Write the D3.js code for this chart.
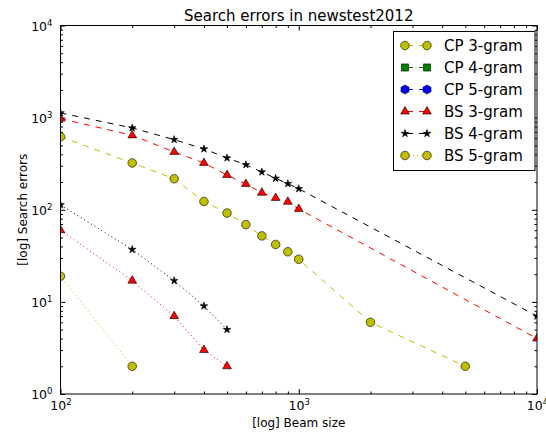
<!DOCTYPE html>
<html>
<head>
<meta charset="utf-8">
<script src="https://cdn.jsdelivr.net/npm/d3@7"></script>
<style>
  body { margin: 0; background: #fff; }
  text { font-family: "DejaVu Sans", sans-serif; }
</style>
</head>
<body>
<svg id="chart" width="546" height="432"></svg>
<script>
// beam sizes
const beam_long = [100, 200, 300, 400, 500, 600, 700, 800, 900, 1000, 2000, 5000];
const beam_mid = [100, 200, 300, 400, 500, 600, 700, 800, 900, 1000, 10000];
const beam_short = [100, 200, 300, 400, 500];
const beam_tiny = [100, 200];

// search errors per series
const err_cp3 = [620, 322, 217, 123, 92, 69, 52, 42, 35, 29, 6, 2];
const err_cp4 = [];
const err_cp5 = [];
const err_bs3 = [975, 642, 424, 322, 238, 190, 153, 134, 122, 102, 4];
const err_bs4 = [1125, 773, 577, 457, 365, 308, 257, 219, 192, 169, 7];
const err_bs5 = [19, 2];
const err_extra3 = [60, 17, 7, 3, 2];
const err_extra4 = [113, 37, 17, 9, 5];

const labels = ["CP 3-gram", "CP 4-gram", "CP 5-gram", "BS 3-gram", "BS 4-gram", "BS 5-gram"];
const x_ticks = [100, 1000, 10000];
const y_ticks = [1, 10, 100, 1000, 10000];

const series = [
    { label: labels[0], xs: beam_long, ys: err_cp3, color: "#bfbf00", dash: "6,6", shape: "circle" },
    { label: labels[1], xs: [], ys: err_cp4, color: "#008000", dash: "6,6", shape: "square" },
    { label: labels[2], xs: [], ys: err_cp5, color: "#0000ff", dash: "6,6", shape: "hexagon" },
    { label: labels[3], xs: beam_mid, ys: err_bs3, color: "#ff0000", dash: "6,6", shape: "triangle" },
    { label: labels[4], xs: beam_mid, ys: err_bs4, color: "#000000", dash: "6,6", shape: "star" },
    { label: labels[5], xs: beam_tiny, ys: err_bs5, color: "#bfbf00", dash: "1,3", shape: "circle" },
    { label: null, xs: beam_short, ys: err_extra3, color: "#ff0000", dash: "1,3", shape: "triangle" },
    { label: null, xs: beam_short, ys: err_extra4, color: "#000000", dash: "1,3", shape: "star" }
];

const plot_left = 60.5, plot_right = 537, plot_top = 25.5, plot_bottom = 394;
const svg = d3.select("#chart");

const x = d3.scaleLog().domain([100, 10000]).range([plot_left, plot_right]);
const y = d3.scaleLog().domain([1, 10000]).range([plot_bottom, plot_top]);

function minorTicks(lo, hi) {
    let out = [];
    for (let d = lo; d < hi; d *= 10)
        for (let k = 2; k <= 9; k++) out.push(d * k);
    return out;
}

// hexagon for CP 5-gram legend marker
const symbolHexagon = {
    draw(ctx, size) {
        const r = Math.sqrt(size / (1.5 * Math.sqrt(3)));
        for (let i = 0; i < 6; i++) {
            const a = Math.PI / 2 + i * Math.PI / 3;
            const px = r * Math.cos(a), py = -r * Math.sin(a);
            if (i === 0) ctx.moveTo(px, py); else ctx.lineTo(px, py);
        }
        ctx.closePath();
    }
};
function markerPath(shape) {
    if (shape === "circle") return d3.symbol(d3.symbolCircle, 58)();
    if (shape === "triangle") return d3.symbol(d3.symbolTriangle, 33)();
    if (shape === "star") return d3.symbol(d3.symbolStar, 18)();
    if (shape === "square") return d3.symbol(d3.symbolSquare, 50)();
    return d3.symbol(symbolHexagon, 55)();
}

svg.append("clipPath").attr("id", "plot-clip")
    .append("rect").attr("x", plot_left).attr("y", plot_top)
    .attr("width", plot_right - plot_left).attr("height", plot_bottom - plot_top);

// Axes: minor then major ticks on all four sides, pointing inwards
function supLabels(sel, sup_dy) {
    sel.selectAll("text").each(function(d) {
        const t = d3.select(this);
        t.text("10");
        t.append("tspan").attr("dy", sup_dy).attr("font-size", "8.5px").text(Math.round(Math.log10(d)));
    });
}

const ax = svg.append("g").attr("class", "axes");
ax.append("g").attr("transform", `translate(0,${plot_bottom})`)
    .call(d3.axisBottom(x).tickValues(minorTicks(100, 10000)).tickSize(-2.5).tickFormat(""));
ax.append("g").attr("transform", `translate(0,${plot_top})`)
    .call(d3.axisTop(x).tickValues(minorTicks(100, 10000)).tickSize(-2.5).tickFormat(""));
ax.append("g").attr("transform", `translate(${plot_left},0)`)
    .call(d3.axisLeft(y).tickValues(minorTicks(1, 10000)).tickSize(-2.5).tickFormat(""));
ax.append("g").attr("transform", `translate(${plot_right},0)`)
    .call(d3.axisRight(y).tickValues(minorTicks(1, 10000)).tickSize(-2.5).tickFormat(""));

let x_axis_group = ax.append("g").attr("transform", `translate(0,${plot_bottom})`)
    .call(d3.axisBottom(x).tickValues(x_ticks).tickSize(-5).tickPadding(6.5));
supLabels(x_axis_group, "-0.55em");
let y_axis_group = ax.append("g").attr("transform", `translate(${plot_left},0)`)
    .call(d3.axisLeft(y).tickValues(y_ticks).tickSize(-5).tickPadding(8));
supLabels(y_axis_group, "-0.55em");
ax.append("g").attr("transform", `translate(0,${plot_top})`)
    .call(d3.axisTop(x).tickValues(x_ticks).tickSize(-5).tickFormat(""));
ax.append("g").attr("transform", `translate(${plot_right},0)`)
    .call(d3.axisRight(y).tickValues(y_ticks).tickSize(-5).tickFormat(""));

ax.selectAll(".domain").remove();
ax.selectAll("line").attr("stroke", "#000").attr("stroke-width", 1);
ax.selectAll("text").attr("font-size", "12.5px").attr("fill", "#000")
    .attr("font-family", "DejaVu Sans, sans-serif");
y_axis_group.selectAll("text").attr("dy", "0.36em");
x_axis_group.selectAll("text").attr("dy", "0.74em");

// Data lines and markers
const plot = svg.append("g").attr("clip-path", "url(#plot-clip)");
const line = d3.line().x(d => x(d[0])).y(d => y(d[1]));

series.forEach(s => {
    const pts = s.xs.map((v, i) => [v, s.ys[i]]);
    if (!pts.length) return;
    plot.append("path")
        .datum(pts)
        .attr("d", line)
        .attr("fill", "none")
        .attr("stroke", s.color)
        .attr("stroke-width", 1)
        .attr("stroke-dasharray", s.dash);
});
series.forEach(s => {
    const pts = s.xs.map((v, i) => [v, s.ys[i]]);
    plot.selectAll(null)
        .data(pts)
        .join("path")
        .attr("d", markerPath(s.shape))
        .attr("transform", d => `translate(${x(d[0])},${y(d[1])})`)
        .attr("fill", s.color)
        .attr("stroke", "#000")
        .attr("stroke-width", 0.6);
});

// Frame
svg.append("rect")
    .attr("x", plot_left).attr("y", plot_top)
    .attr("width", plot_right - plot_left).attr("height", plot_bottom - plot_top)
    .attr("fill", "none").attr("stroke", "#000").attr("stroke-width", 1);

// Title and axis labels
svg.append("text")
    .attr("x", (plot_left + plot_right) / 2).attr("y", 20.5)
    .attr("text-anchor", "middle").attr("font-size", "15px")
    .text("Search errors in newstest2012");
svg.append("text")
    .attr("x", (plot_left + plot_right) / 2).attr("y", 427)
    .attr("text-anchor", "middle").attr("font-size", "12px")
    .text("[log] Beam size");
svg.append("text")
    .attr("transform", `translate(27,${(plot_top + plot_bottom) / 2}) rotate(-90)`)
    .attr("text-anchor", "middle").attr("font-size", "12px")
    .text("[log] Search errors");

// Legend
const legend_items = series.filter(s => s.label);
const legend = svg.append("g");
legend.append("rect")
    .attr("x", 393.5).attr("y", 31.5).attr("width", 141.5).attr("height", 139)
    .attr("fill", "#fff").attr("stroke", "#000").attr("stroke-width", 1);
legend_items.forEach((s, i) => {
    const ly = 45.5 + i * 22;
    legend.append("line")
        .attr("x1", 405).attr("x2", 427).attr("y1", ly).attr("y2", ly)
        .attr("stroke", s.color).attr("stroke-width", 1)
        .attr("stroke-dasharray", s.dash)
        .attr("stroke-dashoffset", s.dash === "6,6" ? -2 : 0);
    [405, 427].forEach(mx => {
        legend.append("path")
            .attr("d", markerPath(s.shape))
            .attr("transform", `translate(${mx},${ly})`)
            .attr("fill", s.color).attr("stroke", "#000").attr("stroke-width", 0.6);
    });
    legend.append("text")
        .attr("x", 444).attr("y", ly).attr("dy", "0.36em")
        .attr("font-size", "15px")
        .text(s.label);
});
</script>
</body>
</html>
